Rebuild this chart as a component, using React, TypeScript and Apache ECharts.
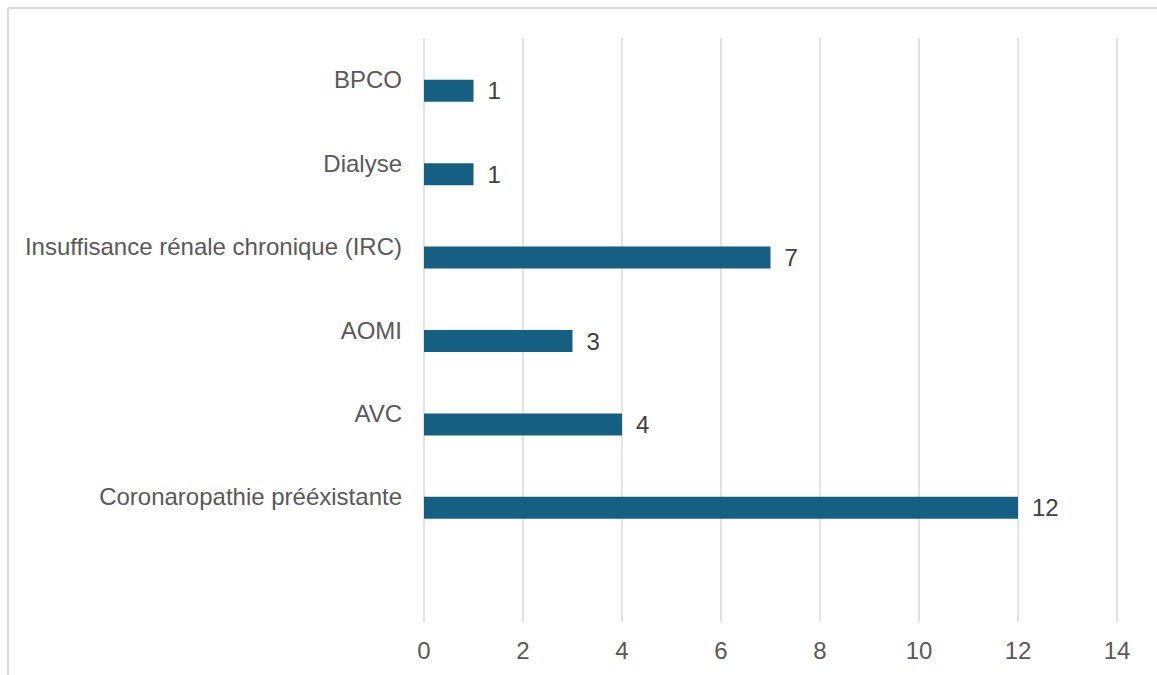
import React, { useEffect, useRef } from "react";
import * as echarts from "echarts";

// Categories listed bottom to top (the first slot is left blank)
const categories: string[] = [
  "",
  "Coronaropathie prééxistante",
  "AVC",
  "AOMI",
  "Insuffisance rénale chronique (IRC)",
  "Dialyse",
  "BPCO",
];

// Number of patients per comorbidity
const counts: (number | null)[] = [null, 12, 4, 3, 7, 1, 1];

// Companion series with no values; it keeps its slot in each band
const companion: (number | null)[] = [null, null, null, null, null, null, null];

// Value axis ticks
const xMin = 0;
const xMax = 14;
const xStep = 2;

const FONT = "'Liberation Sans', Arial, sans-serif";
const FONT_SIZE = 24;

export default function App() {
  const ref = useRef<HTMLDivElement>(null);

  useEffect(() => {
    if (!ref.current) return;
    const chart = echarts.init(ref.current, null, { renderer: "svg" });
    chart.setOption({
      animation: false,
      backgroundColor: "#ffffff",
      textStyle: { fontFamily: FONT },
      grid: { left: 424, right: 40, top: 38, bottom: 53, containLabel: false },
      xAxis: {
        type: "value",
        min: xMin,
        max: xMax,
        interval: xStep,
        axisLine: { show: false },
        axisTick: { show: false },
        axisLabel: { color: "#595959", fontSize: FONT_SIZE, fontFamily: FONT, margin: 16 },
        splitLine: { show: true, lineStyle: { color: "#d9d9d9", width: 1.5 } },
      },
      yAxis: {
        type: "category",
        data: categories,
        axisLine: { show: false },
        axisTick: { show: false },
        axisLabel: { color: "#595959", fontSize: FONT_SIZE, fontFamily: FONT, margin: 22 },
        splitLine: { show: false },
      },
      series: [
        {
          type: "bar",
          data: companion,
          barWidth: 22,
          barGap: "0%",
          itemStyle: { color: "#ed7d31" },
        },
        {
          type: "bar",
          data: counts,
          barWidth: 22,
          barGap: "0%",
          itemStyle: { color: "#156082" },
          label: {
            show: true,
            position: "right",
            distance: 14,
            color: "#404040",
            fontSize: FONT_SIZE,
            fontFamily: FONT,
          },
        },
      ],
      graphic: [
        {
          type: "line",
          shape: { x1: 8, y1: 8, x2: 1157, y2: 8 },
          style: { stroke: "#d9d9d9", lineWidth: 2 },
          silent: true,
        },
        {
          type: "line",
          shape: { x1: 8, y1: 8, x2: 8, y2: 675 },
          style: { stroke: "#d9d9d9", lineWidth: 2 },
          silent: true,
        },
      ],
    });
    return () => chart.dispose();
  }, []);

  return (
    <div
      ref={ref}
      style={{ position: "absolute", left: 0, top: 0, width: 1157, height: 675 }}
    />
  );
}
